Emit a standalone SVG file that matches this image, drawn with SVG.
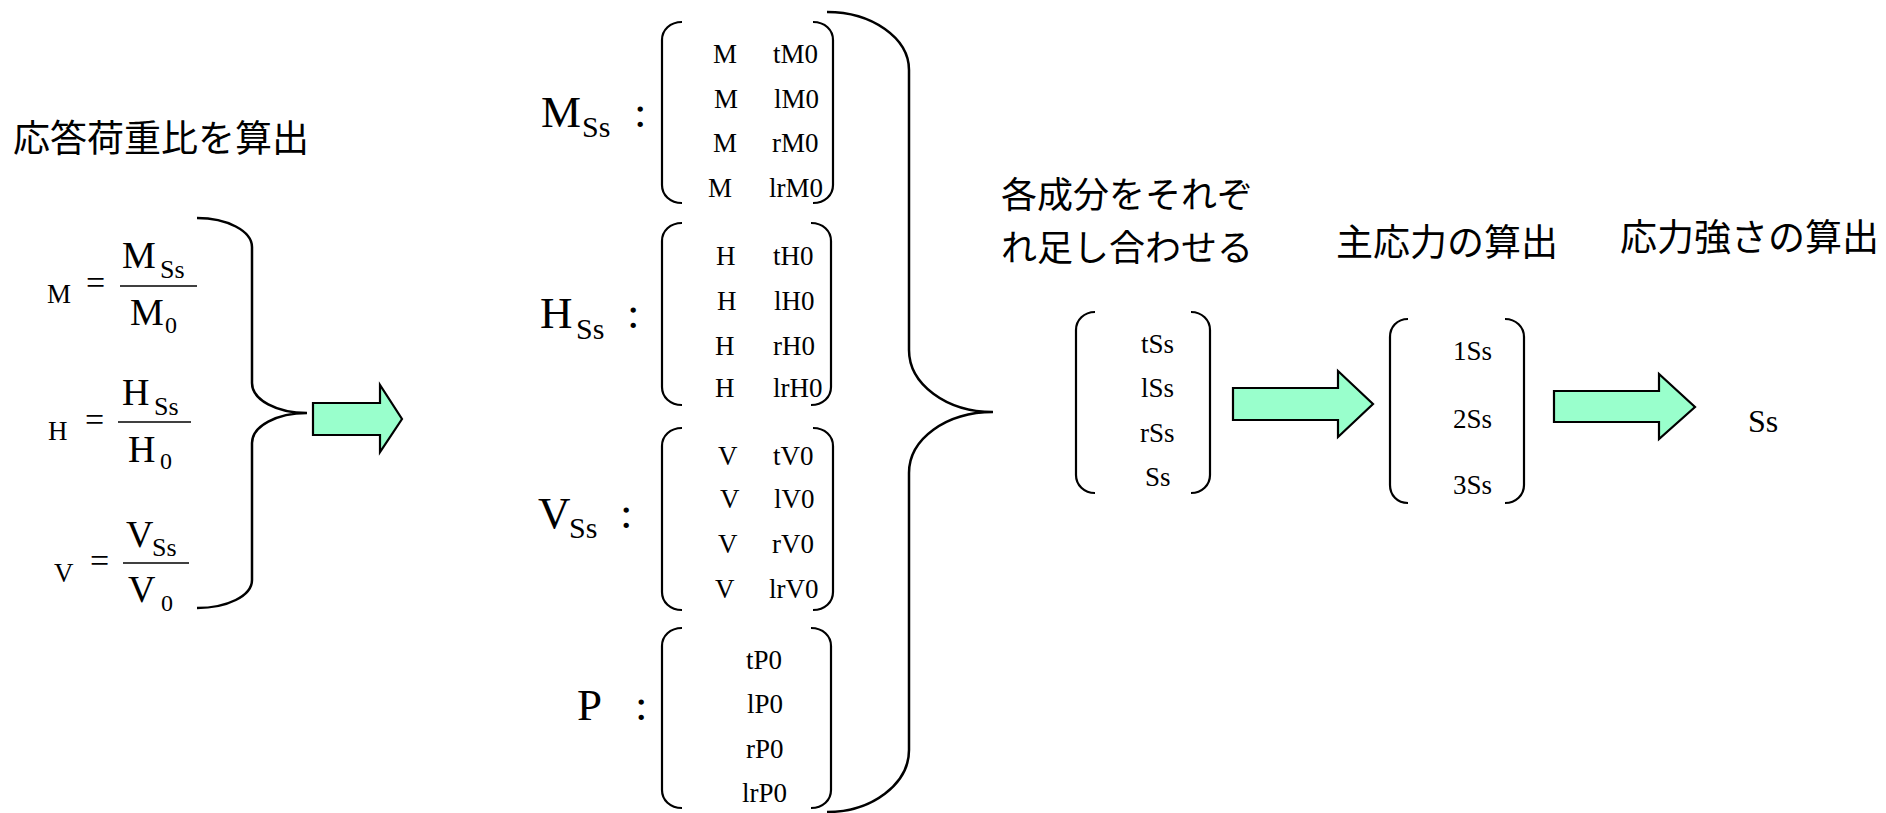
<svg xmlns="http://www.w3.org/2000/svg" width="1886" height="813" viewBox="0 0 1886 813">
<style>
.jp{font-family:"Noto Sans CJK JP","Noto Sans",sans-serif;font-size:37px;fill:#000}
.jp36{font-size:36px}
.m{font-family:"Liberation Serif","Times New Roman",serif;fill:#000}
.s27{font-size:27px}
.s38{font-size:38px}
.s26{font-size:26px}
.s24{font-size:24px}
.s34{font-size:34px}
.s45{font-size:45px}
.s30{font-size:30px}
.s32{font-size:32px}
.br{fill:none;stroke:#000;stroke-width:2.2}
.bb{fill:none;stroke:#000;stroke-width:2.5}
.fl{stroke:#000;stroke-width:1.5}
.arrow{fill:#99FFCC;stroke:#000;stroke-width:2.2;stroke-linejoin:miter}
</style>
<rect width="1886" height="813" fill="#fff"/>

<g id="title-ratio"><text class="jp" x="13" y="152">応答荷重比を算出</text></g>

<g id="ratio-M">
<text class="m s27" x="47" y="303">M</text>
<text class="m s34" x="86" y="294">=</text>
<text class="m s38" x="122" y="268">M</text><text class="m s26" x="160" y="278">Ss</text>
<line class="fl" x1="120" y1="286" x2="197" y2="286"/>
<text class="m s38" x="130" y="325">M</text><text class="m s24" x="165" y="333">0</text>
</g>
<g id="ratio-H">
<text class="m s27" x="48" y="440">H</text>
<text class="m s34" x="85" y="431">=</text>
<text class="m s38" x="122" y="405">H</text><text class="m s26" x="154" y="415">Ss</text>
<line class="fl" x1="118" y1="422" x2="191" y2="422"/>
<text class="m s38" x="128" y="462">H</text><text class="m s24" x="160" y="469">0</text>
</g>
<g id="ratio-V">
<text class="m s27" x="54" y="582">V</text>
<text class="m s34" x="90" y="572">=</text>
<text class="m s38" x="126" y="547">V</text><text class="m s26" x="152" y="556">Ss</text>
<line class="fl" x1="123" y1="563" x2="189" y2="563"/>
<text class="m s38" x="128" y="602">V</text><text class="m s24" x="161" y="611">0</text>
</g>

<g id="brace-left">
<path class="bb" d="M197,218 C227,218 252,231 252,247 L252,383 C252,400 277,413 307,413 C277,413 252,426 252,443 L252,580 C252,596 227,608 197,608"/>
</g>

<g id="label-MSs">
<text class="m s45" x="541" y="127">M</text><text class="m s30" x="582" y="137">Ss</text>
<text class="m s45" x="634" y="127">:</text>
</g>
<g id="matrix-M">
<path class="br" d="M682,22 C670,22 662,30 662,40 L662,185 C662,195 670,203 682,203"/>
<path class="br" d="M813,22 C825,22 833,30 833,40 L833,185 C833,195 825,203 813,203"/>
<text class="m s27" x="713" y="63">M</text><text class="m s27" x="773" y="63">tM0</text>
<text class="m s27" x="714" y="108">M</text><text class="m s27" x="774" y="108">lM0</text>
<text class="m s27" x="713" y="152">M</text><text class="m s27" x="772" y="152">rM0</text>
<text class="m s27" x="708" y="197">M</text><text class="m s27" x="769" y="197">lrM0</text>
</g>

<g id="label-HSs">
<text class="m s45" x="540" y="328">H</text><text class="m s30" x="576" y="339">Ss</text>
<text class="m s45" x="627" y="328">:</text>
</g>
<g id="matrix-H">
<path class="br" d="M682,223 C670,223 662,231 662,241 L662,387 C662,397 670,405 682,405"/>
<path class="br" d="M811,223 C823,223 831,231 831,241 L831,387 C831,397 823,405 811,405"/>
<text class="m s27" x="716" y="265">H</text><text class="m s27" x="773" y="265">tH0</text>
<text class="m s27" x="717" y="310">H</text><text class="m s27" x="774" y="310">lH0</text>
<text class="m s27" x="715" y="355">H</text><text class="m s27" x="773" y="355">rH0</text>
<text class="m s27" x="715" y="397">H</text><text class="m s27" x="773" y="397">lrH0</text>
</g>

<g id="label-VSs">
<text class="m s45" x="538" y="528">V</text><text class="m s30" x="569" y="538">Ss</text>
<text class="m s45" x="620" y="528">:</text>
</g>
<g id="matrix-V">
<path class="br" d="M682,428 C670,428 662,436 662,446 L662,592 C662,602 670,610 682,610"/>
<path class="br" d="M813,428 C825,428 833,436 833,446 L833,592 C833,602 825,610 813,610"/>
<text class="m s27" x="718" y="465">V</text><text class="m s27" x="773" y="465">tV0</text>
<text class="m s27" x="720" y="508">V</text><text class="m s27" x="774" y="508">lV0</text>
<text class="m s27" x="718" y="553">V</text><text class="m s27" x="772" y="553">rV0</text>
<text class="m s27" x="715" y="598">V</text><text class="m s27" x="769" y="598">lrV0</text>
</g>

<g id="label-P">
<text class="m s45" x="577" y="720">P</text>
<text class="m s45" x="635" y="720">:</text>
</g>
<g id="matrix-P">
<path class="br" d="M682,628 C670,628 662,636 662,646 L662,790 C662,800 670,808 682,808"/>
<path class="br" d="M811,628 C823,628 831,636 831,646 L831,790 C831,800 823,808 811,808"/>
<text class="m s27" x="746" y="669">tP0</text>
<text class="m s27" x="747" y="713">lP0</text>
<text class="m s27" x="746" y="758">rP0</text>
<text class="m s27" x="742" y="802">lrP0</text>
</g>

<g id="brace-right">
<path class="bb" d="M827,12 C872,12 909,38 909,70 L909,350 C909,384 946,412 993,412 C946,412 909,439 909,473 L909,750 C909,784 872,812 827,812"/>
</g>

<g id="title-sum">
<text class="jp jp36" x="1001" y="208">各成分をそれぞ</text>
<text class="jp jp36" x="1001" y="261">れ足し合わせる</text>
</g>
<g id="matrix-sum">
<path class="br" d="M1095,312 C1084,312 1076,320 1076,330 L1076,475 C1076,485 1084,493 1095,493"/>
<path class="br" d="M1191,312 C1202,312 1210,320 1210,330 L1210,475 C1210,485 1202,493 1191,493"/>
<text class="m s27" x="1141" y="353">tSs</text>
<text class="m s27" x="1141" y="397">lSs</text>
<text class="m s27" x="1140" y="442">rSs</text>
<text class="m s27" x="1145" y="486">Ss</text>
</g>

<g id="title-principal"><text class="jp" x="1336" y="256">主応力の算出</text></g>
<g id="matrix-principal">
<path class="br" d="M1408,319 C1397,319 1390,327 1390,337 L1390,485 C1390,495 1397,503 1408,503"/>
<path class="br" d="M1505,319 C1516,319 1524,327 1524,337 L1524,485 C1524,495 1516,503 1505,503"/>
<text class="m s27" x="1453" y="360">1Ss</text>
<text class="m s27" x="1453" y="428">2Ss</text>
<text class="m s27" x="1453" y="494">3Ss</text>
</g>

<g id="title-intensity"><text class="jp" x="1620" y="251">応力強さの算出</text></g>
<g id="result"><text class="m s32" x="1748" y="432">Ss</text></g>

<g id="connectors">
<path class="arrow" d="M313,403 L380,403 L380,385 L402,419 L380,452 L380,435 L313,435 Z"/>
<path class="arrow" d="M1233,388 L1338,388 L1338,371 L1373,404 L1338,437 L1338,420 L1233,420 Z"/>
<path class="arrow" d="M1554,391 L1659,391 L1659,374 L1695,407 L1659,439 L1659,422 L1554,422 Z"/>
</g>
</svg>
